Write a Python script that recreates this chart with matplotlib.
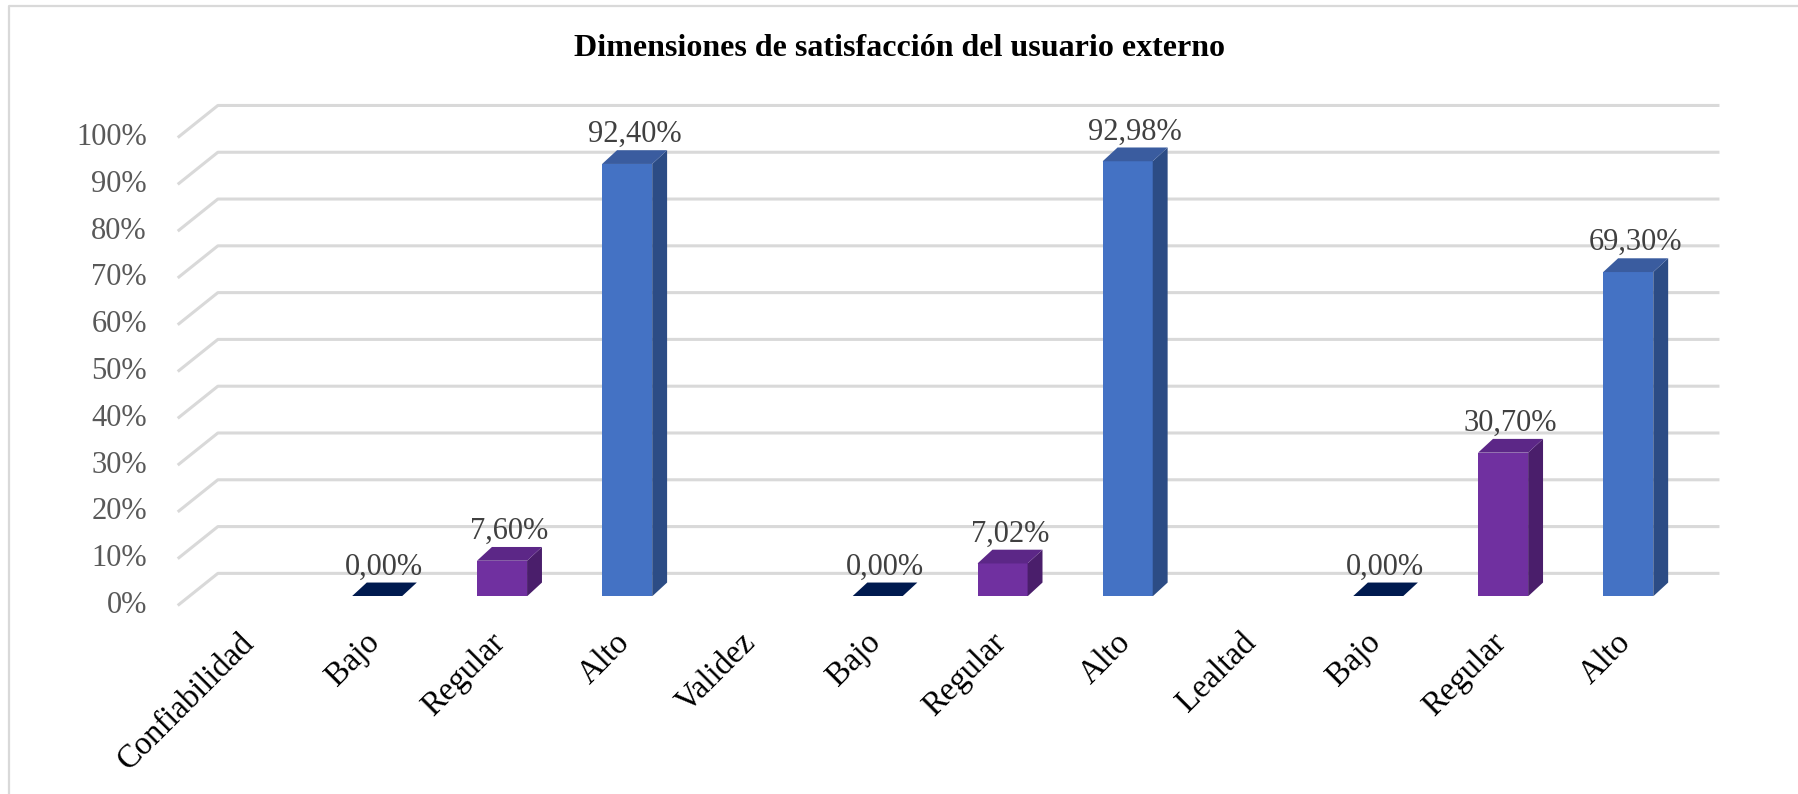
import matplotlib
matplotlib.use("Agg")
import matplotlib.pyplot as plt
from matplotlib.patches import Polygon
from matplotlib.lines import Line2D

# ---- data ----
categories = ["Confiabilidad", "Bajo", "Regular", "Alto",
              "Validez", "Bajo", "Regular", "Alto",
              "Lealtad", "Bajo", "Regular", "Alto"]
values = [None, 0.0, 0.076, 0.924,
          None, 0.0, 0.0702, 0.9298,
          None, 0.0, 0.307, 0.693]
labels = [None, "0,00%", "7,60%", "92,40%",
          None, "0,00%", "7,02%", "92,98%",
          None, "0,00%", "30,70%", "69,30%"]
series = [None, "Bajo", "Regular", "Alto",
          None, "Bajo", "Regular", "Alto",
          None, "Bajo", "Regular", "Alto"]
yticks = [0, 0.1, 0.2, 0.3, 0.4, 0.5, 0.6, 0.7, 0.8, 0.9, 1.0]
ytick_labels = ["0%", "10%", "20%", "30%", "40%", "50%",
                "60%", "70%", "80%", "90%", "100%"]
title = "Dimensiones de satisfacción del usuario externo"

# ---- style ----
colors = {
    "Bajo":    {"front": "#002060", "side": "#001540", "top": "#001a4f"},
    "Regular": {"front": "#7030A0", "side": "#4A1E6B", "top": "#5C2787"},
    "Alto":    {"front": "#4472C4", "side": "#2C4C85", "top": "#3A5C9F"},
}
plt.rcParams["font.family"] = ["Liberation Serif", "DejaVu Serif"]

W, H = 1798, 794
fig = plt.figure(figsize=(W / 100, H / 100), dpi=100)

# chart border (only left and top edges visible)
fig.add_artist(Line2D([8.5 / W, 8.5 / W, 1.0], [0.0, 1 - 5.5 / H, 1 - 5.5 / H],
                      transform=fig.transFigure, color="#D9D9D9", lw=1.6))

# axes = front plane of the bars
x0, x1 = 189.2, 1690.8
yb, yt = 596.3, 128.4
ax = fig.add_axes([x0 / W, 1 - yb / H, (x1 - x0) / W, (yb - yt) / H])
ax.set_xlim(-0.5, len(categories) - 0.5)
ax.set_ylim(0, 1)
ax.axis("off")

# pixel -> data conversions
px_x = (x1 - x0) / len(categories)      # px per category
px_y = (yb - yt)                        # px per 1.0
S = 1798 / 1568


def dxu(p):  # shrunk px -> data x units
    return p * S / px_x


def dyu(p):  # shrunk px (upward) -> data y units
    return p * S / px_y


# plane offsets (relative to bar front plane)
front_dx, front_dy = dxu(-10), dyu(-8)
back_dx, back_dy = dxu(25), dyu(20)
bar_dx, bar_dy = dxu(13), dyu(12)
bar_w = 0.40

xl, xr = -0.5, len(categories) - 0.5
# gridlines: left wall diagonal + back wall horizontal
for v in yticks:
    ax.plot([xl + front_dx, xl + back_dx, xr + back_dx],
            [v + front_dy, v + back_dy, v + back_dy],
            color="#D9D9D9", lw=2.2, solid_capstyle="butt", zorder=1,
            clip_on=False)

# y tick labels (front plane)
for v, t in zip(yticks, ytick_labels):
    ax.text(xl + front_dx - dxu(27), v + front_dy, t, ha="right", va="center",
            fontsize=22, color="#595959", clip_on=False)

# bars
for i, (v, s, lab) in enumerate(zip(values, series, labels)):
    if v is None:
        continue
    c = colors[s]
    l, r = i - bar_w / 2, i + bar_w / 2
    ax.bar(i, v, width=bar_w, color=c["front"], edgecolor="none", zorder=3)
    side = Polygon([(r, 0), (r + bar_dx, bar_dy), (r + bar_dx, v + bar_dy), (r, v)],
                   closed=True, facecolor=c["side"], edgecolor="none", zorder=3)
    top = Polygon([(l, v), (r, v), (r + bar_dx, v + bar_dy), (l + bar_dx, v + bar_dy)],
                  closed=True, facecolor=c["top"], edgecolor="none", zorder=4)
    ax.add_patch(side)
    ax.add_patch(top)
    ax.text(i + bar_dx / 2, v + bar_dy + dyu(1), lab, ha="center", va="bottom",
            fontsize=22, color="#404040", zorder=5)

# category labels
for i, cat in enumerate(categories):
    ax.text(i + front_dx - dxu(1), front_dy - dyu(19), cat, rotation=45,
            rotation_mode="anchor", ha="right", va="top",
            fontsize=23.5, color="black", clip_on=False)

fig.text(0.5, 1 - 48 / H, title, ha="center", va="center",
         fontsize=23, fontweight="bold", color="black")

fig.savefig("out.png", dpi=100, facecolor="white")
